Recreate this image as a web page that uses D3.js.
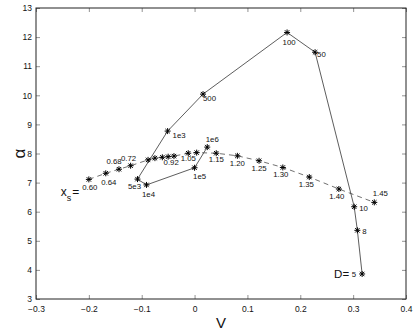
<!DOCTYPE html>
<meta charset="utf-8">
<script src="https://d3js.org/d3.v7.min.js"></script>
<style>
  body { margin: 0; background: #fff; }
  text { font-family: "Liberation Sans", Arial, sans-serif; fill: #111; }
</style>
<div id="chart"></div>
<script>

// solid curve: D values
var dLabels = ["5", "8", "10", "50", "100", "500", "1e3", "5e3", "1e4", "1e5", "1e6"];
var dV      = [0.317, 0.308, 0.302, 0.228, 0.175, 0.016, -0.051, -0.108, -0.091, 0.000, 0.024];
var dAlpha  = [3.86, 5.36, 6.17, 11.48, 12.16, 10.04, 8.77, 7.12, 6.92, 7.51, 8.22];

// dashed curve: x_s values
var xsLabels = ["0.60", "0.64", "0.68", "0.72", "", "", "", "0.92", "", "1.05", "",
                "1.15", "1.20", "1.25", "1.30", "1.35", "1.40", "1.45"];
var xsV      = [-0.200, -0.168, -0.143, -0.121, -0.088, -0.075, -0.061, -0.050, -0.039, -0.012, 0.004,
                0.041, 0.081, 0.122, 0.167, 0.217, 0.273, 0.340];
var xsAlpha  = [7.11, 7.32, 7.46, 7.58, 7.78, 7.84, 7.87, 7.89, 7.91, 8.01, 8.03,
                8.01, 7.92, 7.75, 7.52, 7.19, 6.78, 6.32];

var xTicks = [-0.3, -0.2, -0.1, 0, 0.1, 0.2, 0.3, 0.4];
var yTicks = [3, 4, 5, 6, 7, 8, 9, 10, 11, 12, 13];

// label placement (dx, dy, anchor) for each point
var dLabelPos = [[-6, 3, "end"], [5, 4, "start"], [5, 4, "start"], [2, 5, "start"], [2, 13, "middle"],
                 [0, 7, "start"], [5, 7, "start"], [-3, 10, "middle"], [2, 12, "middle"],
                 [5, 11, "middle"], [5, -5, "middle"]];
var xsLabelPos = [[1, 11, "middle"], [3, 12, "middle"], [-5, -5, "middle"], [-2, -5, "middle"], null, null, null,
                  [3, 8, "middle"], null, [0, 8, "middle"], null,
                  [0, 9, "middle"], [0, 10, "middle"], [0, 10, "middle"], [-2, 10, "middle"],
                  [-3, 10, "middle"], [-2, 10, "middle"], [6, -6, "middle"]];

var W = 415, H = 333;
var margin = {top: 8, right: 9, bottom: 34, left: 36},
    width = W - margin.left - margin.right,
    height = H - margin.top - margin.bottom;

var svg = d3.select("#chart").append("svg")
    .attr("width", W).attr("height", H)
  .append("g")
    .attr("transform", "translate(" + margin.left + "," + margin.top + ")");

var x = d3.scaleLinear().domain([-0.3, 0.4]).range([0, width]);
var y = d3.scaleLinear().domain([3, 13]).range([height, 0]);

// axes with inward ticks on all four sides (matlab look)
function styleAxis(g) {
  g.select(".domain").remove();
  g.selectAll(".tick line").attr("stroke", "#777").attr("stroke-width", 0.8);
  g.selectAll(".tick text").style("font-size", "8.5px").attr("fill", "#222");
}
svg.append("g").attr("transform", "translate(0," + height + ")")
  .call(d3.axisBottom(x).tickValues(xTicks).tickSize(-4).tickPadding(7)
        .tickFormat(function(d) { return d === 0 ? "0" : d3.format(".1f")(d).replace("-", "\u2212"); }))
  .call(styleAxis);
svg.append("g")
  .call(d3.axisTop(x).tickValues(xTicks).tickSize(-4).tickFormat(""))
  .call(styleAxis);
svg.append("g")
  .call(d3.axisLeft(y).tickValues(yTicks).tickSize(-4).tickPadding(4))
  .call(styleAxis);
svg.append("g").attr("transform", "translate(" + width + ",0)")
  .call(d3.axisRight(y).tickValues(yTicks).tickSize(-4).tickFormat(""))
  .call(styleAxis);

// box
svg.append("rect")
  .attr("width", width).attr("height", height)
  .attr("fill", "none").attr("stroke", "#222").attr("stroke-width", 1);

var dPts = dV.map(function(v, i) { return {v: v, a: dAlpha[i], label: dLabels[i], pos: dLabelPos[i]}; });
var xsPts = xsV.map(function(v, i) { return {v: v, a: xsAlpha[i], label: xsLabels[i], pos: xsLabelPos[i]}; });

var line = d3.line().x(function(d) { return x(d.v); }).y(function(d) { return y(d.a); });

svg.append("path").datum(xsPts)
  .attr("d", line).attr("fill", "none")
  .attr("stroke", "#333").attr("stroke-width", 0.7)
  .attr("stroke-dasharray", "5,4");

svg.append("path").datum(dPts)
  .attr("d", line).attr("fill", "none")
  .attr("stroke", "#333").attr("stroke-width", 0.8);

// star markers
var star = "M-3,0H3M0,-3V3M-2.2,-2.2L2.2,2.2M-2.2,2.2L2.2,-2.2";
svg.selectAll(".star")
  .data(dPts.concat(xsPts))
  .enter().append("path")
  .attr("class", "star")
  .attr("transform", function(d) { return "translate(" + x(d.v) + "," + y(d.a) + ")"; })
  .attr("d", star).attr("stroke", "#000").attr("stroke-width", 1).attr("fill", "none");

// point labels
svg.selectAll(".lbl")
  .data(dPts.concat(xsPts).filter(function(d) { return d.label !== ""; }))
  .enter().append("text")
  .attr("class", "lbl")
  .attr("x", function(d) { return x(d.v) + d.pos[0]; })
  .attr("y", function(d) { return y(d.a) + d.pos[1]; })
  .attr("text-anchor", function(d) { return d.pos[2]; })
  .style("font-size", "7.8px")
  .text(function(d) { return d.label; });

// "D=" prefix before the first D label
var d0 = dPts[0];
svg.append("text")
  .attr("x", x(d0.v) - 13).attr("y", y(d0.a) + 4)
  .attr("text-anchor", "end")
  .style("font-size", "11.5px")
  .text("D=");

// "x_s =" prefix before the first x_s label
var s0 = xsPts[0];
var xsText = svg.append("text")
  .attr("x", x(s0.v) - 28).attr("y", y(s0.a) + 17)
  .attr("text-anchor", "start")
  .style("font-size", "12px");
xsText.append("tspan").text("x");
xsText.append("tspan").attr("dy", 5).style("font-size", "9px").text("s");
xsText.append("tspan").attr("dy", -5).attr("dx", 1).text("=");

// axis labels
svg.append("text")
  .attr("x", width / 2).attr("y", height + 29)
  .attr("text-anchor", "middle")
  .style("font-size", "15px")
  .text("V");

svg.append("text")
  .attr("transform", "translate(" + (-11) + "," + (height / 2) + ") rotate(-90)")
  .attr("text-anchor", "middle")
  .style("font-size", "17px")
  .text("\u03b1");

</script>
